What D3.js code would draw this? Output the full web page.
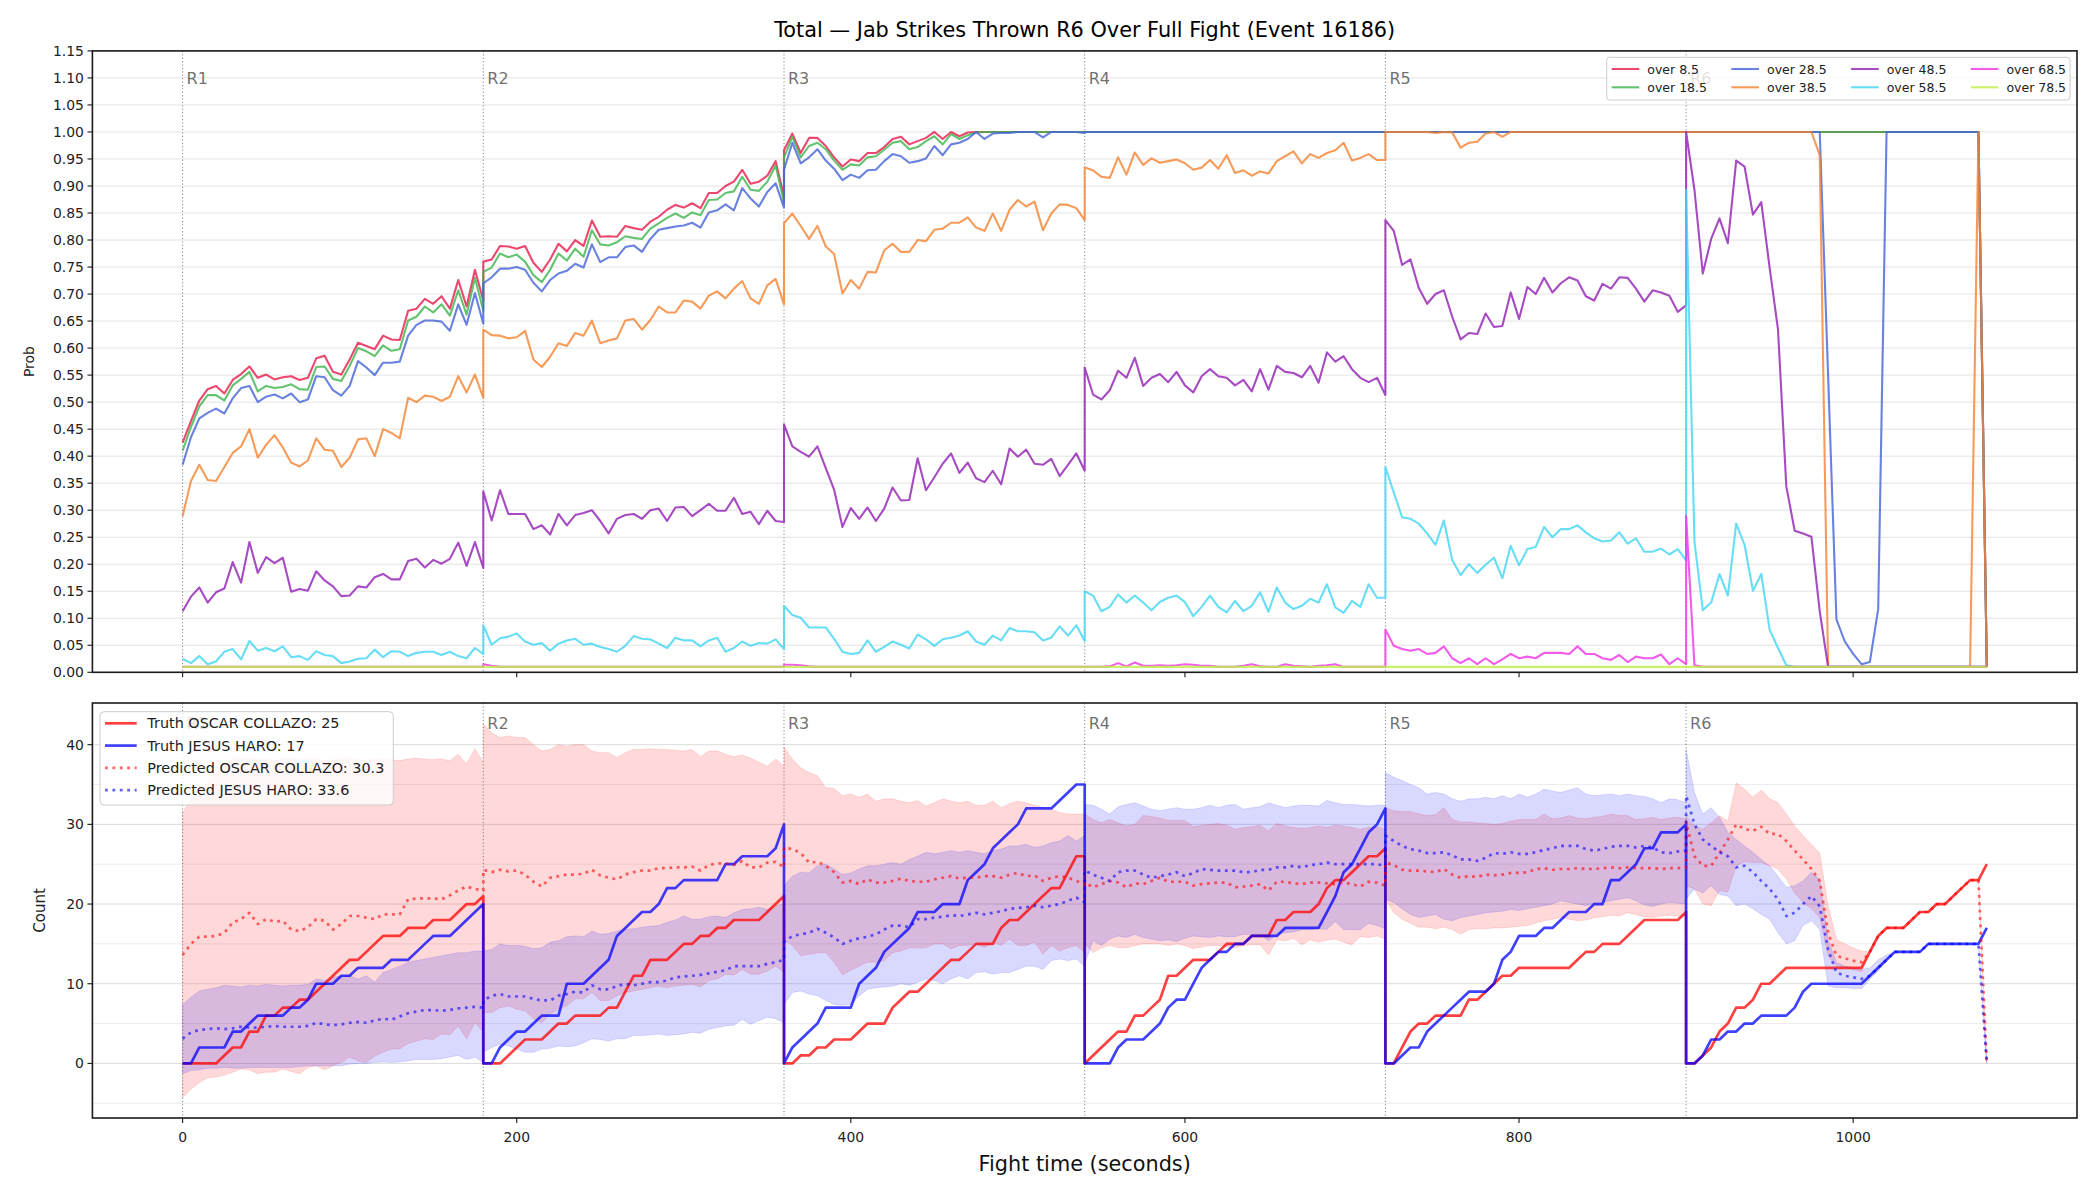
<!DOCTYPE html>
<html>
<head>
<meta charset="utf-8">
<script src="https://cdn.jsdelivr.net/npm/d3@7"></script>
<style>
  body { margin: 0; background: #fff; }
  svg { font-family: "DejaVu Sans", sans-serif; }
</style>
</head>
<body>
<svg id="chart" width="2100" height="1200"></svg>
<script>
// ---- data ----
const roundStarts = [0, 180, 360, 540, 720, 900];
const roundNames = ["R1", "R2", "R3", "R4", "R5", "R6"];
const roundLength = 180;
const timeTicks = [0, 200, 400, 600, 800, 1000];
const probTicks = [0, 0.05, 0.10, 0.15, 0.20, 0.25, 0.30, 0.35, 0.40, 0.45, 0.50, 0.55,
                   0.60, 0.65, 0.70, 0.75, 0.80, 0.85, 0.90, 0.95, 1.00, 1.05, 1.10, 1.15];
const countTicks = [0, 10, 20, 30, 40];
const countMinor = [-5, 5, 15, 25, 35];

const overLabels = ["over 8.5", "over 18.5", "over 28.5", "over 38.5",
                    "over 48.5", "over 58.5", "over 68.5", "over 78.5"];

// one inner array per round, samples every 5 s
const probOver8 = [
  [.425,.465,.503,.524,.530,.516,.541,.552,.566,.545,.551,.542,.546,.548,.541,.545,.581,.586,.556,.551,.579,.610,.604,.598,.623,.616,.615,.669,.673,.691,.682,.696,.673,.726,.677,.745,.688],
  [.760,.764,.789,.788,.784,.789,.758,.741,.764,.793,.779,.800,.789,.836,.806,.807,.806,.826,.822,.819,.834,.843,.856,.865,.860,.868,.859,.887,.887,.900,.908,.930,.904,.908,.919,.946,.880],
  [.966,.997,.961,.989,.989,.974,.953,.936,.949,.946,.961,.961,.972,.987,.991,.977,.983,.989,1,.987,1,.992,.999,1,1,1,1,1,1,1,1,1,1,1,1,1,1],
  [1,1,1,1,1,1,1,1,1,1,1,1,1,1,1,1,1,1,1,1,1,1,1,1,1,1,1,1,1,1,1,1,1,1,1,1,1],
  [1,1,1,1,1,1,1,1,1,1,1,1,1,1,1,1,1,1,1,1,1,1,1,1,1,1,1,1,1,1,1,1,1,1,1,1,1],
  [1,1,1,1,1,1,1,1,1,1,1,1,1,1,1,1,1,1,1,1,1,1,1,1,1,1,1,1,1,1,1,1,1,1,1,1,.01]
];
const probOver18 = [
  [.410,.454,.492,.513,.513,.503,.531,.543,.556,.520,.530,.526,.528,.533,.524,.523,.565,.566,.543,.539,.567,.600,.594,.585,.605,.595,.598,.651,.658,.677,.666,.681,.660,.707,.662,.730,.669],
  [.741,.749,.775,.768,.773,.760,.735,.722,.745,.775,.762,.784,.769,.818,.792,.790,.796,.807,.804,.802,.821,.831,.841,.849,.841,.851,.846,.874,.875,.887,.890,.917,.893,.891,.908,.938,.870],
  [.953,.991,.953,.974,.980,.968,.947,.930,.940,.938,.953,.955,.967,.980,.983,.968,.972,.983,.992,.977,.996,.987,.994,.999,1,1,1,1,1,1,1,1,1,1,1,1,1],
  [1,1,1,1,1,1,1,1,1,1,1,1,1,1,1,1,1,1,1,1,1,1,1,1,1,1,1,1,1,1,1,1,1,1,1,1,1],
  [1,1,1,1,1,1,1,1,1,1,1,1,1,1,1,1,1,1,1,1,1,1,1,1,1,1,1,1,1,1,1,1,1,1,1,1,1],
  [1,1,1,1,1,1,1,1,1,1,1,1,1,1,1,1,1,1,1,1,1,1,1,1,1,1,1,1,1,1,1,1,1,1,1,1,.01]
];
const probOver28 = [
  [.384,.435,.470,.480,.488,.479,.507,.526,.530,.500,.510,.514,.507,.516,.500,.505,.548,.546,.522,.512,.530,.576,.564,.550,.573,.573,.575,.623,.643,.651,.651,.649,.632,.681,.643,.702,.645],
  [.720,.731,.747,.747,.750,.745,.721,.705,.726,.738,.743,.756,.749,.792,.759,.768,.768,.787,.790,.778,.802,.819,.822,.825,.827,.832,.823,.851,.855,.866,.855,.896,.877,.862,.889,.905,.860],
  [.930,.980,.942,.953,.968,.947,.932,.911,.921,.915,.929,.930,.946,.959,.955,.943,.946,.951,.974,.957,.977,.980,.987,1,.987,.997,.998,.998,1,1,1,.990,1,1,1,1,.998],
  [1,1,1,1,1,1,1,1,1,1,1,1,1,1,1,1,1,1,1,1,1,1,1,1,1,1,1,1,1,1,1,1,1,1,1,1,1],
  [1,1,1,1,1,1,1,1,1,1,1,1,1,1,1,1,1,1,1,1,1,1,1,1,1,1,1,1,1,1,1,1,1,1,1,1,1],
  [1,1,1,1,1,1,1,1,1,1,1,1,1,1,1,1,1,.55,.098,.057,.034,.015,.019,.117,1,1,1,1,1,1,1,1,1,1,1,1,.01]
];
const probOver38 = [
  [.289,.354,.384,.356,.354,.380,.406,.418,.450,.397,.421,.439,.416,.388,.381,.392,.433,.412,.410,.380,.397,.431,.433,.400,.450,.443,.433,.508,.500,.512,.510,.502,.510,.548,.518,.551,.508],
  [.634,.624,.623,.618,.620,.632,.579,.565,.584,.609,.604,.628,.623,.651,.609,.614,.618,.651,.654,.634,.652,.677,.666,.666,.688,.686,.673,.697,.705,.692,.710,.724,.692,.682,.716,.728,.681],
  [.831,.849,.826,.802,.826,.788,.774,.701,.726,.710,.741,.740,.781,.793,.778,.778,.800,.798,.819,.821,.832,.832,.842,.823,.817,.849,.817,.856,.874,.862,.871,.818,.849,.866,.865,.859,.837],
  [.934,.929,.917,.915,.953,.921,.962,.939,.951,.943,.946,.949,.942,.930,.934,.948,.932,.957,.924,.929,.919,.927,.923,.946,.955,.964,.942,.959,.952,.961,.966,.980,.947,.952,.959,.948,.948],
  [1,1,1,1,1,1,.998,1,.999,.971,.980,.982,.997,1,.991,1,1,1,1,1,1,1,1,1,1,1,1,1,1,1,1,1,1,1,1,1,1],
  [1,1,1,1,1,1,1,1,1,1,1,1,1,1,1,1,.957,.01,.01,.01,.01,.01,.01,.01,.01,.01,.01,.01,.01,.01,.01,.01,.01,.01,.01,1,.01]
];
const probOver48 = [
  [.113,.140,.157,.129,.148,.155,.204,.166,.241,.184,.213,.202,.212,.149,.154,.151,.187,.170,.159,.141,.142,.159,.157,.176,.182,.172,.172,.206,.210,.194,.208,.201,.210,.240,.197,.241,.193],
  [.335,.281,.337,.293,.293,.293,.265,.272,.255,.293,.272,.291,.295,.300,.280,.257,.284,.291,.293,.284,.300,.303,.280,.305,.306,.289,.300,.312,.299,.299,.323,.293,.297,.274,.299,.280,.278],
  [.459,.418,.408,.399,.418,.378,.338,.269,.304,.284,.305,.280,.303,.342,.318,.319,.396,.337,.361,.386,.405,.369,.388,.359,.352,.373,.348,.414,.399,.412,.386,.384,.395,.363,.384,.405,.373],
  [.564,.514,.505,.522,.558,.545,.582,.530,.545,.552,.537,.556,.531,.518,.548,.561,.548,.545,.531,.541,.520,.561,.523,.567,.556,.554,.546,.567,.536,.592,.575,.585,.561,.545,.537,.545,.513],
  [.837,.817,.754,.764,.711,.682,.700,.707,.658,.616,.628,.626,.664,.639,.641,.703,.654,.713,.700,.730,.703,.720,.731,.725,.696,.688,.719,.710,.731,.730,.710,.686,.707,.703,.697,.667,.679],
  [1,.893,.738,.802,.840,.794,.947,.936,.847,.870,.749,.635,.344,.262,.257,.251,.113,.01,.01,.01,.01,.01,.01,.01,.01,.01,.01,.01,.01,.01,.01,.01,.01,.01,.01,.01,.01]
];
const probOver58 = [
  [.025,.017,.030,.015,.020,.038,.043,.024,.058,.040,.045,.039,.048,.028,.030,.023,.039,.032,.030,.017,.020,.025,.026,.042,.028,.039,.038,.030,.036,.038,.038,.032,.038,.030,.026,.045,.034],
  [.087,.051,.063,.066,.072,.057,.051,.054,.040,.053,.059,.062,.051,.053,.047,.043,.038,.049,.067,.062,.061,.053,.045,.064,.059,.059,.048,.059,.064,.038,.045,.057,.049,.054,.053,.061,.043],
  [.123,.106,.101,.083,.083,.083,.062,.038,.034,.036,.059,.038,.047,.057,.051,.044,.070,.061,.049,.061,.064,.068,.076,.057,.051,.068,.059,.082,.076,.076,.074,.059,.064,.085,.068,.087,.058],
  [.150,.142,.113,.121,.144,.129,.142,.129,.115,.130,.138,.142,.130,.104,.121,.142,.121,.111,.132,.113,.123,.148,.112,.157,.129,.117,.123,.136,.129,.163,.120,.110,.132,.121,.163,.138,.138],
  [.380,.333,.287,.284,.275,.257,.236,.281,.208,.180,.200,.184,.199,.212,.174,.234,.198,.228,.232,.269,.250,.265,.265,.272,.259,.248,.242,.244,.259,.238,.248,.223,.223,.229,.218,.228,.207],
  [.893,.242,.115,.129,.182,.142,.275,.236,.151,.182,.079,.045,.013,.01,.01,.01,.01,.01,.01,.01,.01,.01,.01,.01,.01,.01,.01,.01,.01,.01,.01,.01,.01,.01,.01,.01,.01]
];
const probOver68 = [
  [.01,.01,.01,.01,.01,.01,.01,.01,.01,.01,.01,.01,.01,.01,.01,.01,.01,.01,.01,.01,.01,.01,.01,.01,.01,.01,.01,.01,.01,.01,.01,.01,.01,.01,.01,.01,.01],
  [.015,.012,.01,.01,.01,.01,.01,.01,.01,.01,.01,.01,.01,.01,.01,.01,.01,.01,.01,.01,.01,.01,.01,.01,.01,.01,.01,.01,.01,.01,.01,.01,.01,.01,.01,.01,.01],
  [.014,.014,.013,.011,.01,.01,.01,.01,.01,.01,.01,.01,.01,.01,.01,.01,.01,.01,.01,.01,.01,.01,.01,.01,.01,.01,.01,.01,.01,.01,.01,.01,.01,.01,.01,.01,.01],
  [.01,.01,.01,.011,.017,.011,.018,.012,.012,.013,.012,.013,.015,.014,.012,.012,.01,.01,.01,.012,.015,.011,.01,.01,.015,.012,.011,.01,.012,.013,.015,.01,.01,.01,.01,.01,.01],
  [.079,.049,.043,.040,.043,.034,.036,.048,.026,.017,.026,.015,.026,.015,.024,.034,.026,.029,.026,.036,.036,.036,.034,.048,.034,.034,.026,.023,.032,.019,.029,.026,.026,.033,.015,.026,.015],
  [.289,.013,.01,.01,.01,.01,.01,.01,.01,.01,.01,.01,.01,.01,.01,.01,.01,.01,.01,.01,.01,.01,.01,.01,.01,.01,.01,.01,.01,.01,.01,.01,.01,.01,.01,.01,.01]
];
const probOver78 = [
  [.01,.01,.01,.01,.01,.01,.01,.01,.01,.01,.01,.01,.01,.01,.01,.01,.01,.01,.01,.01,.01,.01,.01,.01,.01,.01,.01,.01,.01,.01,.01,.01,.01,.01,.01,.01,.01],
  [.01,.01,.01,.01,.01,.01,.01,.01,.01,.01,.01,.01,.01,.01,.01,.01,.01,.01,.01,.01,.01,.01,.01,.01,.01,.01,.01,.01,.01,.01,.01,.01,.01,.01,.01,.01,.01],
  [.01,.01,.01,.01,.01,.01,.01,.01,.01,.01,.01,.01,.01,.01,.01,.01,.01,.01,.01,.01,.01,.01,.01,.01,.01,.01,.01,.01,.01,.01,.01,.01,.01,.01,.01,.01,.01],
  [.01,.01,.01,.01,.01,.01,.01,.01,.01,.01,.01,.01,.01,.01,.01,.01,.01,.01,.01,.01,.01,.01,.01,.01,.01,.01,.01,.01,.01,.01,.01,.01,.01,.01,.01,.01,.01],
  [.01,.01,.01,.01,.01,.01,.01,.01,.01,.01,.01,.01,.01,.01,.01,.01,.01,.01,.01,.01,.01,.01,.01,.01,.01,.01,.01,.01,.01,.01,.01,.01,.01,.01,.01,.01,.01],
  [.01,.01,.01,.01,.01,.01,.01,.01,.01,.01,.01,.01,.01,.01,.01,.01,.01,.01,.01,.01,.01,.01,.01,.01,.01,.01,.01,.01,.01,.01,.01,.01,.01,.01,.01,.01,.01]
];

const fighterA = "OSCAR COLLAZO", fighterB = "JESUS HARO";
const finalTruthA = 25, finalTruthB = 17, finalPredA = 30.3, finalPredB = 33.6;

const truthA = [
  [0,0,0,0,0,1,2,2,4,4,6,6,7,7,8,8,9,10,11,12,13,13,14,15,16,16,16,17,17,17,18,18,18,19,20,20,21],
  [0,0,0,1,2,3,3,3,4,5,5,6,6,6,6,7,7,9,11,11,13,13,13,14,15,15,16,16,17,17,18,18,18,18,19,20,21],
  [0,0,1,1,2,2,3,3,3,4,5,5,5,7,8,9,9,10,11,12,13,13,14,15,15,15,17,18,18,19,20,21,22,22,24,26,26],
  [0,1,2,3,4,4,6,6,7,8,11,11,12,13,13,13,14,15,15,15,16,16,16,18,18,19,19,19,20,22,23,23,24,25,26,26,27],
  [0,0,2,4,5,5,6,6,6,6,8,8,9,10,11,11,12,12,12,12,12,12,12,13,14,14,15,15,15,16,17,18,18,18,18,18,19],
  [0,0,1,2,4,5,7,7,8,10,10,11,12,12,12,12,12,12,12,12,12,12,14,16,17,17,17,18,19,19,20,20,21,22,23,23,25]
];
const truthB = [
  [0,0,2,2,2,2,4,4,5,6,6,6,6,7,7,8,10,10,10,11,11,12,12,12,12,13,13,13,14,15,16,16,16,17,18,19,20],
  [0,0,2,3,4,4,5,6,6,6,10,10,10,11,12,13,16,17,18,19,19,20,22,22,23,23,23,23,23,25,25,26,26,26,26,27,30],
  [0,2,3,4,5,7,7,7,7,10,11,12,14,15,16,17,19,19,19,20,20,20,23,24,25,27,28,29,30,32,32,32,32,33,34,35,35],
  [0,0,0,0,2,3,3,3,4,5,7,8,8,10,12,13,14,14,15,15,16,16,16,16,17,17,17,17,17,19,21,24,25,27,29,30,32],
  [0,0,1,2,2,4,5,6,7,8,9,9,9,10,13,14,16,16,16,17,17,18,19,19,19,20,20,23,23,24,25,27,27,29,29,29,30],
  [0,0,1,3,3,4,4,5,5,6,6,6,6,7,9,10,10,10,10,10,10,10,11,12,13,14,14,14,14,15,15,15,15,15,15,15,17]
];
const predA = [
  [13.6,15.0,15.9,15.9,16.0,16.4,17.7,18.1,18.9,17.5,18.1,17.8,17.9,16.8,16.6,17.1,18.1,17.9,16.8,17.5,18.5,18.5,18.3,18.1,18.7,18.7,18.7,20.6,20.7,20.7,20.7,20.6,21.1,21.7,22.2,21.9,21.7],
  [24.3,24.0,24.3,24.1,24.2,23.7,22.8,22.2,23.3,23.5,23.7,23.7,23.8,24.3,23.6,23.3,23.1,23.7,24.0,24.2,24.2,24.5,24.5,24.6,24.6,24.7,24.2,24.9,25.1,25.1,24.9,25.4,24.6,24.6,25.2,25.3,24.6],
  [27.1,26.9,26.4,25.2,25.3,24.8,24.0,22.7,22.9,22.5,23.1,22.7,22.7,22.9,23.2,22.9,22.8,22.8,23.1,23.3,23.5,23.2,23.3,23.3,23.5,23.5,23.3,23.7,23.9,23.5,23.6,22.9,23.3,23.5,23.3,22.9,22.5],
  [22.7,22.1,22.5,22.9,22.7,22.1,22.6,22.5,22.9,23.3,22.8,22.8,22.8,22.3,22.5,22.6,22.7,22.7,22.1,22.2,22.3,22.5,21.7,22.8,22.8,22.6,22.5,22.7,22.7,22.6,22.5,22.7,22.5,22.2,22.8,22.7,22.3],
  [25.2,24.9,24.3,24.2,24.2,24.1,24.0,24.4,23.7,23.3,23.5,23.4,23.7,23.6,23.7,23.9,23.9,24.0,24.4,24.5,24.3,24.4,24.4,24.5,24.4,24.4,24.5,24.6,24.5,24.6,24.5,24.5,24.5,24.4,24.5,24.5,24.6],
  [30.3,26.0,24.8,24.8,26.4,28.1,30.0,29.4,29.2,29.7,28.8,28.8,27.9,26.7,25.6,24.4,22.9,16.4,13.5,13.2,12.9,12.7,14,16,17,17,17,18,19,19,20,20,21,22,23,23,0]
];
const predB = [
  [3.1,3.9,4.2,4.3,4.4,4.3,4.4,4.6,4.5,4.5,4.6,4.7,4.6,4.6,4.6,4.7,5.1,4.9,4.8,4.9,5.1,5.2,5.1,5.4,5.6,5.5,5.9,6.3,6.5,6.7,6.7,6.6,6.7,6.9,7.0,7.1,7.0],
  [7.9,8.5,8.7,8.4,8.4,8.4,8.1,7.9,7.9,8.5,8.7,9.0,8.9,9.8,9.3,9.3,9.7,10.0,9.8,10.0,10.2,10.2,10.4,10.8,10.9,11.0,11.1,11.3,11.5,11.7,12.2,12.2,12.2,12.2,12.5,12.7,13.0],
  [15.2,16.0,16.2,16.4,16.9,16.4,15.8,15.0,15.4,15.7,15.9,16.2,16.8,17.3,17.3,17.1,18.1,18.1,18.3,18.4,18.6,18.5,18.7,18.9,18.7,18.9,19.1,19.4,19.5,19.6,19.8,19.6,19.8,20.0,20.4,20.8,20.2],
  [24.2,23.7,23.3,22.9,24.0,24.2,24.2,23.7,23.3,23.5,23.7,24.0,23.5,23.9,24.4,24.3,24.2,24.2,24.2,24.0,24.0,24.3,24.3,24.6,24.6,24.8,24.6,24.9,25.0,25.2,25.0,25.0,25.0,25.0,25.0,25.0,24.8],
  [28.6,27.9,27.3,26.9,26.7,26.4,26.4,26.5,26.1,25.6,25.6,25.4,25.8,26.4,26.3,26.5,26.3,26.3,26.5,26.8,27.0,27.3,27.3,27.3,26.9,26.7,26.9,27.2,27.3,27.3,27.1,27.3,27.1,26.5,26.4,26.6,26.7],
  [33.6,30.0,28.1,27.3,26.5,26.0,24.6,24.8,24.0,22.9,21.9,20.6,18.5,18.9,20.0,21.0,19.7,14.3,11.4,11.0,10.8,10.6,11,12,13,14,14,14,14,15,15,15,15,15,15,15,0]
];
const highA = [
  [31.5,33.2,34.2,35.2,36.3,37.3,38.4,38.2,38.3,38.1,38.2,38.0,38.2,38.3,38.1,38.2,38.2,38.0,38.1,38.2,38.3,38.1,38.0,38.2,38.2,38.1,38.0,38.2,38.3,38.2,38.1,38.2,38.0,38.8,37.6,39.5,37.8],
  [42.6,41.5,40.9,41.1,40.9,40.9,40.0,39.2,39.4,40.0,39.8,40.0,40.0,39.2,39.0,39.0,38.4,39.0,39.4,39.4,39.5,39.4,39.4,39.3,39.2,39.4,38.5,39.2,39.2,38.8,38.5,38.7,38.3,37.8,37.3,38.2,37.3],
  [39.7,38.2,37.1,36.5,36.1,34.6,34.5,33.6,33.8,33.4,33.8,32.9,33.2,33.2,32.9,32.7,33.0,32.3,32.7,33.2,32.9,32.7,32.9,32.4,32.4,32.9,32.1,32.6,32.9,32.7,32.4,32.1,31.9,31.5,31.3,31.3,31.3],
  [31.3,30.6,30.2,30.6,30.2,29.8,30.0,31.1,31.0,30.8,30.5,30.5,30.5,29.7,29.9,30.0,30.1,29.9,29.4,29.6,29.7,29.9,29.2,30.1,29.8,29.6,29.5,29.6,29.8,29.6,29.9,29.8,29.6,29.4,29.6,29.7,29.4],
  [32.1,31.7,31.6,31.6,31.3,31.1,31.2,32.1,30.6,30.3,30.3,30.2,30.1,30.0,30.1,30.4,30.6,30.6,30.6,31.3,30.7,30.8,31.1,30.8,30.7,30.9,31.0,31.3,31.1,31.1,30.6,30.7,30.9,30.6,30.8,30.9,30.7],
  [31.1,29.8,29.4,30.2,31.1,30.4,35.2,34.4,33.4,34.3,33.2,32.7,31.3,29.8,28.6,27.5,26.4,19.8,15.6,15.0,14.5,14.1,14,16,17,17,17,18,19,19,20,20,21,22,23,23,0]
];
const lowA = [
  [-4.3,-3.2,-2.4,-1.8,-1.7,-1.5,-1.1,-0.7,-0.8,-1.3,-1.1,-1.1,-0.7,-1.0,-1.3,-0.5,-0.3,-0.8,-0.3,0.1,0.8,0.3,0.1,0.9,1.4,1.8,1.8,2.5,2.8,3.1,3.0,3.7,3.6,4.7,3.1,5.1,3.9],
  [6.4,6.4,7.0,7.2,6.8,6.6,5.6,5.1,6.2,6.8,7.2,8.1,8.1,8.9,7.9,7.9,8.5,8.9,9.1,9.3,9.5,9.7,9.5,9.7,9.8,9.9,9.6,10.4,10.6,11.2,11.1,11.8,11.2,11.2,11.6,12.2,11.4],
  [15.6,14.8,13.5,13.7,13.9,13.9,12.7,11.1,11.7,12.2,12.7,12.7,12.9,13.9,14.1,14.5,14.5,14.5,15.0,15.0,14.4,14.8,14.8,15.0,14.5,15.2,14.8,15.6,14.8,14.8,15.2,13.7,14.8,14.1,14.5,14.8,13.9],
  [15.0,13.9,14.5,14.8,14.5,14.5,14.8,15.0,15.0,15.0,14.8,15.0,14.8,14.4,14.6,14.8,14.8,14.6,14.5,14.8,14.9,14.9,13.6,15.5,15.4,15.7,14.9,15.5,15.2,15.5,15.6,15.2,14.9,15.9,15.8,16.0,15.6],
  [20.7,18.9,18.1,17.6,17.1,17.1,16.9,17.1,16.8,16.2,16.8,16.9,16.9,17.0,17.0,17.1,17.2,17.3,17.6,17.9,18.1,18.3,18.1,17.9,18.0,18.3,18.4,18.6,18.5,18.9,18.7,18.4,18.3,18.5,18.6,18.5,18.5],
  [22.3,21.9,20.0,19.8,21.7,21.5,24.8,25.3,25.2,25.2,24.8,24.4,23.1,21.4,20.2,19.4,18.3,13.5,12.2,12.0,11.8,11.5,14,16,17,17,17,18,19,19,20,20,21,22,23,23,0]
];
const highB = [
  [7.4,8.3,9.1,9.3,9.5,9.8,9.7,9.6,9.8,9.7,9.9,9.8,9.7,9.8,9.8,9.9,10.6,10.4,10.8,11.0,11.0,10.6,11.0,10.2,11.4,11.8,12.2,12.7,12.9,13.1,13.3,13.5,13.7,13.9,13.9,14.1,14.1],
  [14.1,14.3,15.0,14.8,14.8,14.7,14.4,14.5,15.2,15.4,15.9,16.0,15.9,16.6,16.2,16.3,16.6,16.8,16.9,17.1,17.2,17.3,17.7,18.0,18.5,18.1,18.1,18.4,18.5,18.3,18.9,19.3,19.4,19.6,19.3,19.8,20.0],
  [22.3,23.5,24.0,23.9,24.8,25.0,24.4,23.7,23.9,24.4,24.8,24.8,25.0,25.2,25.0,25.6,26.0,26.5,26.3,26.5,26.7,26.5,26.7,26.5,26.3,26.7,26.9,27.3,27.3,27.5,27.1,27.3,27.7,27.9,28.6,27.9,28.6],
  [32.5,32.4,31.9,31.3,32.2,32.5,32.7,32.3,31.9,31.7,31.9,32.1,31.9,31.9,32.1,32.4,32.1,32.4,32.5,31.9,32.1,32.2,32.7,32.4,32.1,32.3,32.4,32.4,32.3,33.0,32.7,32.5,32.5,32.4,32.3,32.4,32.4],
  [36.5,35.9,35.5,35.0,34.6,33.8,34.0,33.8,33.2,32.9,33.2,33.2,33.4,33.2,33.6,33.2,33.8,33.4,33.8,34.4,34.2,34.0,34.3,34.6,33.8,33.6,33.7,33.8,33.6,33.8,33.6,33.5,33.2,32.7,33.2,33.1,32.7],
  [39.4,34.0,31.3,32.1,30.9,29.0,28.1,27.3,26.5,25.6,24.8,23.5,22.1,22.3,22.9,24.0,23.1,15.5,12.7,12.2,12.0,11.8,12.0,13.0,13.6,14,14,14,14,15,15,15,15,15,15,15,0]
];
const lowB = [
  [-1.3,-0.9,-0.8,-0.6,-0.6,-0.5,-0.6,-0.6,-0.5,-0.5,-0.5,-0.5,-0.5,-0.5,-0.4,-0.3,-0.3,-0.3,-0.3,-0.3,-0.1,0.0,0.0,0.1,0.2,0.1,0.2,0.3,0.5,0.5,0.5,0.6,0.8,1.0,0.5,0.8,0.1],
  [1.4,2.0,2.4,2.2,1.8,1.4,1.4,1.8,1.9,2.2,2.1,2.2,2.6,3.1,3.0,2.8,3.1,3.1,3.5,3.5,3.6,3.7,3.5,3.6,3.7,3.9,3.8,4.3,4.5,4.7,4.8,5.5,4.9,5.4,5.8,5.6,5.1],
  [7.4,8.9,9.1,8.7,8.5,7.9,7.4,7.3,7.4,8.5,9.3,9.5,9.6,9.7,10.0,9.8,10.2,10.6,10.4,10.0,10.6,11.0,10.6,11.4,11.5,11.2,11.4,11.4,11.8,12.2,12.2,11.8,12.9,13.1,12.9,13.1,12.2],
  [12.5,15.4,14.8,15.6,16.0,15.8,16.2,15.8,15.6,15.4,15.5,15.3,15.7,16.0,15.9,15.8,16.0,15.9,15.9,16.2,16.1,16.2,15.4,16.2,16.4,16.5,16.8,16.8,16.9,16.8,17.8,16.8,16.8,16.8,17.6,17.3,16.9],
  [20.6,20.2,19.4,18.7,18.3,18.5,18.7,18.1,17.9,18.3,18.5,18.7,18.9,19.0,19.1,19.3,19.2,19.4,19.6,19.8,20.0,20.4,20.2,20.0,19.8,20.1,20.2,20.4,20.6,20.8,20.4,19.9,19.7,20.0,20.2,20.1,20.0],
  [20.6,21.9,21.4,22.3,21.2,21.0,19.8,20.0,19.4,18.7,18.1,16.4,15.0,15.4,17.3,17.9,16.8,9.7,9.5,9.5,9.4,9.4,10.6,11.6,13.0,14,14,14,14,15,15,15,15,15,15,15,0]
];

// ---- layout ----
const svg = d3.select("#chart");
const L = 92.4, R = 2077;
const top1 = 50.9, bot1 = 672.3, top2 = 703, bot2 = 1118;
const x = d3.scaleLinear().domain([-54, 1134]).range([L, R]);
const yP = d3.scaleLinear().domain([0, 1.15]).range([bot1, top1]);
const yC = d3.scaleLinear().domain([-6.85, 45.23]).range([bot2, top2]);

const overColors = ["#e6194b", "#3cb44b", "#4363d8", "#f58231", "#911eb4", "#42d4f4", "#f032e6", "#bfef45"];
const INK = "#1a1a1a";

// flatten rounds into {t, v} points spread across each round
function flatten(rounds) {
  const out = [];
  rounds.forEach((vals, r) => {
    const n = vals.length;
    vals.forEach((v, i) => out.push({ t: roundStarts[r] + i * roundLength / (n - 1), v }));
  });
  return out;
}
function bandPts(lo, hi) {
  const a = flatten(lo), b = flatten(hi);
  return a.map((d, i) => ({ t: d.t, lo: d.v, hi: b[i].v }));
}

const defs = svg.append("defs");
defs.append("clipPath").attr("id", "clipTop").append("rect")
  .attr("x", L).attr("y", top1).attr("width", R - L).attr("height", bot1 - top1);
defs.append("clipPath").attr("id", "clipBot").append("rect")
  .attr("x", L).attr("y", top2).attr("width", R - L).attr("height", bot2 - top2);

// title
svg.append("text").attr("x", (L + R) / 2).attr("y", 36.5).attr("text-anchor", "middle")
  .attr("font-size", 20.8).attr("fill", "#000")
  .text("Total \u2014 Jab Strikes Thrown R6 Over Full Fight (Event 16186)");

// ---- top panel ----
const gTop = svg.append("g");
gTop.selectAll(".gridP").data(probTicks).enter().append("line")
  .attr("x1", L).attr("x2", R).attr("y1", d => yP(d)).attr("y2", d => yP(d))
  .attr("stroke", "#e3e3e3").attr("stroke-width", 1);

function roundMarks(g, y0, y1, labelY) {
  g.selectAll(null).data(roundStarts).enter().append("line")
    .attr("x1", d => x(d)).attr("x2", d => x(d)).attr("y1", y0).attr("y2", y1)
    .attr("stroke", "#555").attr("stroke-opacity", 0.7).attr("stroke-width", 1)
    .attr("stroke-dasharray", "1.2,2.2");
  g.selectAll(null).data(roundStarts).enter().append("text")
    .attr("x", d => x(d) + 4).attr("y", labelY).attr("font-size", 16)
    .attr("fill", "#555").attr("fill-opacity", 0.85)
    .text((d, i) => roundNames[i]);
}
roundMarks(gTop, top1, bot1, 84);

const probSeries = [probOver8, probOver18, probOver28, probOver38, probOver48, probOver58, probOver68, probOver78];
const lineP = d3.line().x(d => x(d.t)).y(d => yP(d.v));
const gLinesTop = gTop.append("g").attr("clip-path", "url(#clipTop)");
probSeries.forEach((s, k) => {
  gLinesTop.append("path").datum(flatten(s)).attr("d", lineP)
    .attr("fill", "none").attr("stroke", overColors[k]).attr("stroke-opacity", 0.8)
    .attr("stroke-width", 2.1).attr("stroke-linejoin", "round");
});

function frame(g, y0, y1) {
  g.append("rect").attr("x", L).attr("y", y0).attr("width", R - L).attr("height", y1 - y0)
    .attr("fill", "none").attr("stroke", INK).attr("stroke-width", 1.6);
  g.selectAll(null).data(timeTicks).enter().append("line")
    .attr("x1", d => x(d)).attr("x2", d => x(d)).attr("y1", y1).attr("y2", y1 + 4.9)
    .attr("stroke", INK).attr("stroke-width", 1.1);
}
frame(gTop, top1, bot1);
gTop.selectAll(".tickP").data(probTicks).enter().append("line")
  .attr("x1", L - 4.9).attr("x2", L).attr("y1", d => yP(d)).attr("y2", d => yP(d))
  .attr("stroke", INK).attr("stroke-width", 1.1);
gTop.selectAll(".labP").data(probTicks).enter().append("text")
  .attr("x", L - 8.5).attr("y", d => yP(d)).attr("dy", "0.36em").attr("text-anchor", "end")
  .attr("font-size", 13.9).attr("fill", "#222").text(d => d.toFixed(2));
svg.append("text").attr("transform", `translate(29,${(top1 + bot1) / 2}) rotate(-90)`)
  .attr("text-anchor", "middle").attr("dy", "0.36em").attr("font-size", 13.9).attr("fill", "#222").text("Prob");

// top legend
const lg1 = svg.append("g");
lg1.append("rect").attr("x", 1606.7).attr("y", 57.3).attr("width", 463.3).attr("height", 42.7)
  .attr("rx", 3).attr("fill", "#fff").attr("fill-opacity", 0.8).attr("stroke", "#cccccc").attr("stroke-width", 1);
overLabels.forEach((lab, k) => {
  const col = Math.floor(k / 2), row = k % 2;
  const hx = 1611.7 + col * 119.7, hy = 69 + row * 18.3;
  lg1.append("line").attr("x1", hx).attr("x2", hx + 27.6).attr("y1", hy).attr("y2", hy)
    .attr("stroke", overColors[k]).attr("stroke-opacity", 0.8).attr("stroke-width", 2.1);
  lg1.append("text").attr("x", hx + 35.6).attr("y", hy).attr("dy", "0.36em")
    .attr("font-size", 12.5).attr("fill", "#222").text(lab);
});

// ---- bottom panel ----
const gBot = svg.append("g");
gBot.selectAll(".gridMinor").data(countMinor).enter().append("line")
  .attr("x1", L).attr("x2", R).attr("y1", d => yC(d)).attr("y2", d => yC(d))
  .attr("stroke", "#ececec").attr("stroke-width", 1);
gBot.selectAll(".gridMajor").data(countTicks).enter().append("line")
  .attr("x1", L).attr("x2", R).attr("y1", d => yC(d)).attr("y2", d => yC(d))
  .attr("stroke", "#dcdcdc").attr("stroke-width", 1);
roundMarks(gBot, top2, bot2, 729);

const gData = gBot.append("g").attr("clip-path", "url(#clipBot)");
const area = d3.area().x(d => x(d.t)).y0(d => yC(d.lo)).y1(d => yC(d.hi));
[[lowA, highA, "#ff0000"], [lowB, highB, "#0000ff"]].forEach(([lo, hi, c]) => {
  gData.append("path").datum(bandPts(lo, hi)).attr("d", area)
    .attr("fill", c).attr("fill-opacity", 0.15)
    .attr("stroke", c).attr("stroke-opacity", 0.12).attr("stroke-width", 1);
});
const lineC = d3.line().x(d => x(d.t)).y(d => yC(d.v));
const countLines = [
  { data: truthA, color: "#ff0000", op: 0.75, dash: null },
  { data: truthB, color: "#0000ff", op: 0.75, dash: null },
  { data: predA, color: "#ff0000", op: 0.6, dash: "2.8,4.6" },
  { data: predB, color: "#0000ff", op: 0.6, dash: "2.8,4.6" }
];
countLines.forEach(s => {
  gData.append("path").datum(flatten(s.data)).attr("d", lineC)
    .attr("fill", "none").attr("stroke", s.color).attr("stroke-opacity", s.op)
    .attr("stroke-width", 2.7).attr("stroke-linejoin", "round")
    .attr("stroke-dasharray", s.dash);
});

frame(gBot, top2, bot2);
gBot.selectAll(".tickC").data(countTicks).enter().append("line")
  .attr("x1", L - 4.9).attr("x2", L).attr("y1", d => yC(d)).attr("y2", d => yC(d))
  .attr("stroke", INK).attr("stroke-width", 1.1);
gBot.selectAll(".labC").data(countTicks).enter().append("text")
  .attr("x", L - 8.5).attr("y", d => yC(d)).attr("dy", "0.36em").attr("text-anchor", "end")
  .attr("font-size", 13.9).attr("fill", "#222").text(d => d);
gBot.selectAll(".labT").data(timeTicks).enter().append("text")
  .attr("x", d => x(d)).attr("y", 1142).attr("text-anchor", "middle")
  .attr("font-size", 13.9).attr("fill", "#222").text(d => d);
svg.append("text").attr("transform", `translate(40,${(top2 + bot2) / 2}) rotate(-90)`)
  .attr("text-anchor", "middle").attr("dy", "0.36em").attr("font-size", 15).attr("fill", "#222").text("Count");
svg.append("text").attr("x", (L + R) / 2).attr("y", 1171).attr("text-anchor", "middle")
  .attr("font-size", 20.8).attr("fill", "#111").text("Fight time (seconds)");

// bottom legend
const lg2 = svg.append("g");
lg2.append("rect").attr("x", 100).attr("y", 711.7).attr("width", 293.3).attr("height", 93.3)
  .attr("rx", 4).attr("fill", "#fff").attr("fill-opacity", 0.8).attr("stroke", "#cccccc").attr("stroke-width", 1);
const legendRows = [
  { label: `Truth ${fighterA}: ${finalTruthA}`, s: countLines[0] },
  { label: `Truth ${fighterB}: ${finalTruthB}`, s: countLines[1] },
  { label: `Predicted ${fighterA}: ${finalPredA}`, s: countLines[2] },
  { label: `Predicted ${fighterB}: ${finalPredB}`, s: countLines[3] }
];
legendRows.forEach((row, i) => {
  const hy = 723.3 + i * 22.3;
  lg2.append("line").attr("x1", 105).attr("x2", 136.7).attr("y1", hy).attr("y2", hy)
    .attr("stroke", row.s.color).attr("stroke-opacity", row.s.op).attr("stroke-width", 2.7)
    .attr("stroke-dasharray", row.s.dash);
  lg2.append("text").attr("x", 147.3).attr("y", hy).attr("dy", "0.36em")
    .attr("font-size", 14.4).attr("fill", "#222").text(row.label);
});
</script>
</body>
</html>
